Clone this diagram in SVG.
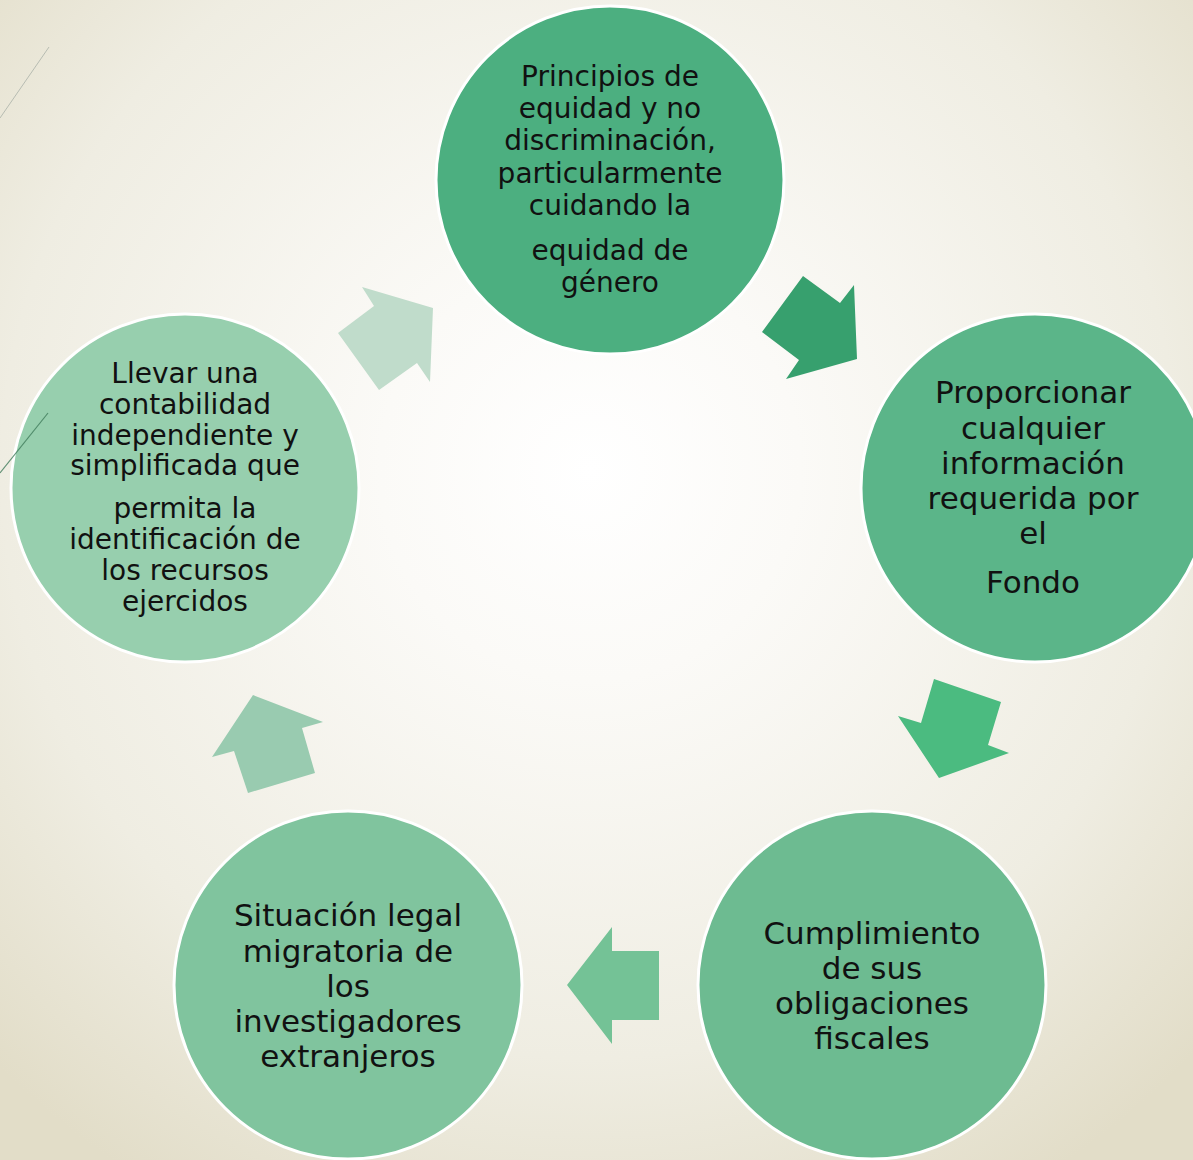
<svg xmlns="http://www.w3.org/2000/svg" width="1193" height="1160" viewBox="0 0 1193 1160">
<defs>
<radialGradient id="bg" cx="590" cy="470" r="840" gradientUnits="userSpaceOnUse">
<stop offset="0" stop-color="#ffffff"/>
<stop offset="0.25" stop-color="#fbfaf7"/>
<stop offset="0.7" stop-color="#efede2"/>
<stop offset="1" stop-color="#e2ddc8"/>
</radialGradient>
<style>
.c{stroke:#ffffff;stroke-width:3}
.t{font-family:"DejaVu Sans","Liberation Sans",sans-serif;fill:#111111;text-anchor:middle}
.s28{font-size:28px}
.s31{font-size:31px}
</style>
</defs>
<rect width="1193" height="1160" fill="url(#bg)"/>
<line x1="49" y1="47" x2="0" y2="118" stroke="#b7bcb2" stroke-width="1"/>
<g id="connectors">
<polygon points="803,276 840,303 854,285 857,359 786,379 799,360 762,332" fill="#37a06e"/>
<polygon points="934,679 1001,702 988,745 1009,753 939,778 898,716 921,723" fill="#4bbb80"/>
<polygon points="612,927 612,951 659,951 659,1020 612,1020 612,1044 567,985" fill="#74c296"/>
<polygon points="253,695 323,722 302,728 315,773 248,793 234,751 212,757" fill="#99cbb0"/>
<polygon points="362,287 433,308 430,382 417,363 379,390 338,333 374,306" fill="#c0dccb"/>
</g>
<g id="n1">
<circle class="c" cx="610" cy="180" r="174" fill="#4caf80"/>
<text class="t s28" x="610"><tspan x="610" y="86">Principios de</tspan><tspan x="610" y="118">equidad y no</tspan><tspan x="610" y="150">discriminación,</tspan><tspan x="610" y="183">particularmente</tspan><tspan x="610" y="215">cuidando la</tspan><tspan x="610" y="260">equidad de</tspan><tspan x="610" y="292">género</tspan></text>
</g>
<g id="n2">
<circle class="c" cx="1035" cy="488" r="174" fill="#5bb589"/>
<text class="t s31"><tspan x="1033" y="403">Proporcionar</tspan><tspan x="1033" y="439">cualquier</tspan><tspan x="1033" y="474">información</tspan><tspan x="1033" y="509">requerida por</tspan><tspan x="1033" y="544">el</tspan><tspan x="1033" y="593">Fondo</tspan></text>
</g>
<g id="n3">
<circle class="c" cx="872" cy="985" r="174" fill="#6dbb91"/>
<text class="t s31"><tspan x="872" y="944">Cumplimiento</tspan><tspan x="872" y="979">de sus</tspan><tspan x="872" y="1014">obligaciones</tspan><tspan x="872" y="1049">fiscales</tspan></text>
</g>
<g id="n4">
<circle class="c" cx="348" cy="985" r="174" fill="#80c49e"/>
<text class="t s31"><tspan x="348" y="926">Situación legal</tspan><tspan x="348" y="962">migratoria de</tspan><tspan x="348" y="997">los</tspan><tspan x="348" y="1032">investigadores</tspan><tspan x="348" y="1067">extranjeros</tspan></text>
</g>
<g id="n5">
<circle class="c" cx="185" cy="488" r="174" fill="#97cfae"/>
<text class="t s28"><tspan x="185" y="383">Llevar una</tspan><tspan x="185" y="414">contabilidad</tspan><tspan x="185" y="445">independiente y</tspan><tspan x="185" y="475">simplificada que</tspan><tspan x="185" y="518">permita la</tspan><tspan x="185" y="549">identificación de</tspan><tspan x="185" y="580">los recursos</tspan><tspan x="185" y="611">ejercidos</tspan></text>
</g>
<line x1="48" y1="413" x2="0" y2="473" stroke="#3f7a5a" stroke-width="1.2" stroke-opacity="0.8"/>
</svg>
